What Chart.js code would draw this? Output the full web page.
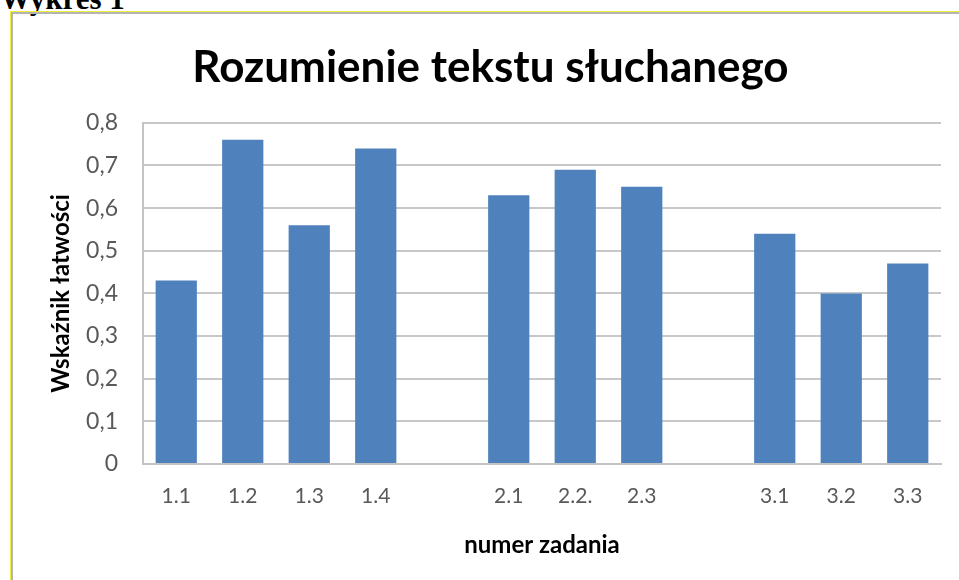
<!DOCTYPE html>
<html>
<head>
<meta charset="utf-8">
<script src="https://cdn.jsdelivr.net/npm/chart.js@4.4.0/dist/chart.umd.min.js"></script>
<style>
  body { margin: 0; background: #fff; }
  #wrap { position: relative; width: 959px; height: 580px; overflow: hidden; background: #fff; }
  #caption { position: absolute; left: 0px; top: -19px; font: bold 31px "Liberation Serif", serif; color: #000; }
  #frame { position: absolute; left: 10px; top: 11px; width: 980px; height: 600px;
           border-top: 1px solid #f2ef3a; border-left: 1px solid #f2ef3a; }
  #frame div { width: 100%; height: 100%; border-top: 2px solid #b4b4b4; border-left: 2px solid #b4b4b4; }
  #chart { position: absolute; left: 0; top: 0; }
</style>
</head>
<body>
<div id="wrap">
  <div id="caption">Wykres 1</div>
  <div id="frame"><div></div></div>
  <canvas id="chart" width="959" height="580"></canvas>
</div>
<script>
// dane z wykresu
const labels = ['1.1', '1.2', '1.3', '1.4', '', '2.1', '2.2.', '2.3', '', '3.1', '3.2', '3.3']
const values = [0.43, 0.76, 0.56, 0.74, null, 0.63, 0.69, 0.65, null, 0.54, 0.40, 0.47]
const yTicks = [0, 0.1, 0.2, 0.3, 0.4, 0.5, 0.6, 0.7, 0.8]

const fontFamily = 'Lato, "Open Sans", sans-serif'

document.addEventListener('DOMContentLoaded', function() {
    const ctx = document.getElementById('chart').getContext('2d')
    const chart = new Chart(ctx, {
        type: 'bar',
        data: {
            labels: labels,
            datasets: [{
                label: 'Wskaźnik łatwości',
                data: values,
                backgroundColor: '#4F81BD',
                borderWidth: 0,
                categoryPercentage: 1,
                barPercentage: 0.62
            }]
        },
        options: {
            responsive: false,
            animation: false,
            devicePixelRatio: 1,
            layout: {
                padding: { left: 40, right: 18, top: 0, bottom: 0 }
            },
            plugins: {
                legend: { display: false },
                tooltip: { enabled: false },
                title: {
                    display: true,
                    text: 'Rozumienie tekstu słuchanego',
                    color: '#000',
                    font: { family: fontFamily, size: 44, weight: 'bold' },
                    padding: { top: 41, bottom: 29 }
                }
            },
            scales: {
                x: {
                    grid: { display: false },
                    border: { display: true, color: '#c4c4c4', width: 2 },
                    ticks: {
                        color: '#595959',
                        font: { family: fontFamily, size: 21 },
                        padding: 12,
                        maxRotation: 0,
                        autoSkip: false
                    },
                    title: {
                        display: true,
                        text: 'numer zadania',
                        color: '#000',
                        font: { family: fontFamily, size: 24, weight: 'bold' },
                        padding: { top: 0, bottom: 20 }
                    },
                    afterFit: function(scale) { scale.height = 116 }
                },
                y: {
                    min: 0,
                    max: 0.8,
                    afterBuildTicks: function(scale) {
                        scale.ticks = yTicks.map(function(v) { return { value: v } })
                    },
                    grid: { color: '#c8c8c8', lineWidth: 2, drawTicks: false },
                    border: { display: true, color: '#c4c4c4', width: 2 },
                    ticks: {
                        color: '#595959',
                        font: { family: fontFamily, size: 23 },
                        padding: 25,
                        callback: function(value) {
                            const v = Math.round(value * 10) / 10
                            return v === 0 ? '0' : v.toFixed(1).replace('.', ',')
                        }
                    },
                    title: {
                        display: true,
                        text: 'Wskaźnik łatwości',
                        color: '#000',
                        font: { family: fontFamily, size: 24, weight: 'bold' },
                        padding: { top: 7, bottom: 0 }
                    },
                    afterFit: function(scale) { scale.width = 103 }
                }
            }
        }
    })
})
</script>
</body>
</html>
